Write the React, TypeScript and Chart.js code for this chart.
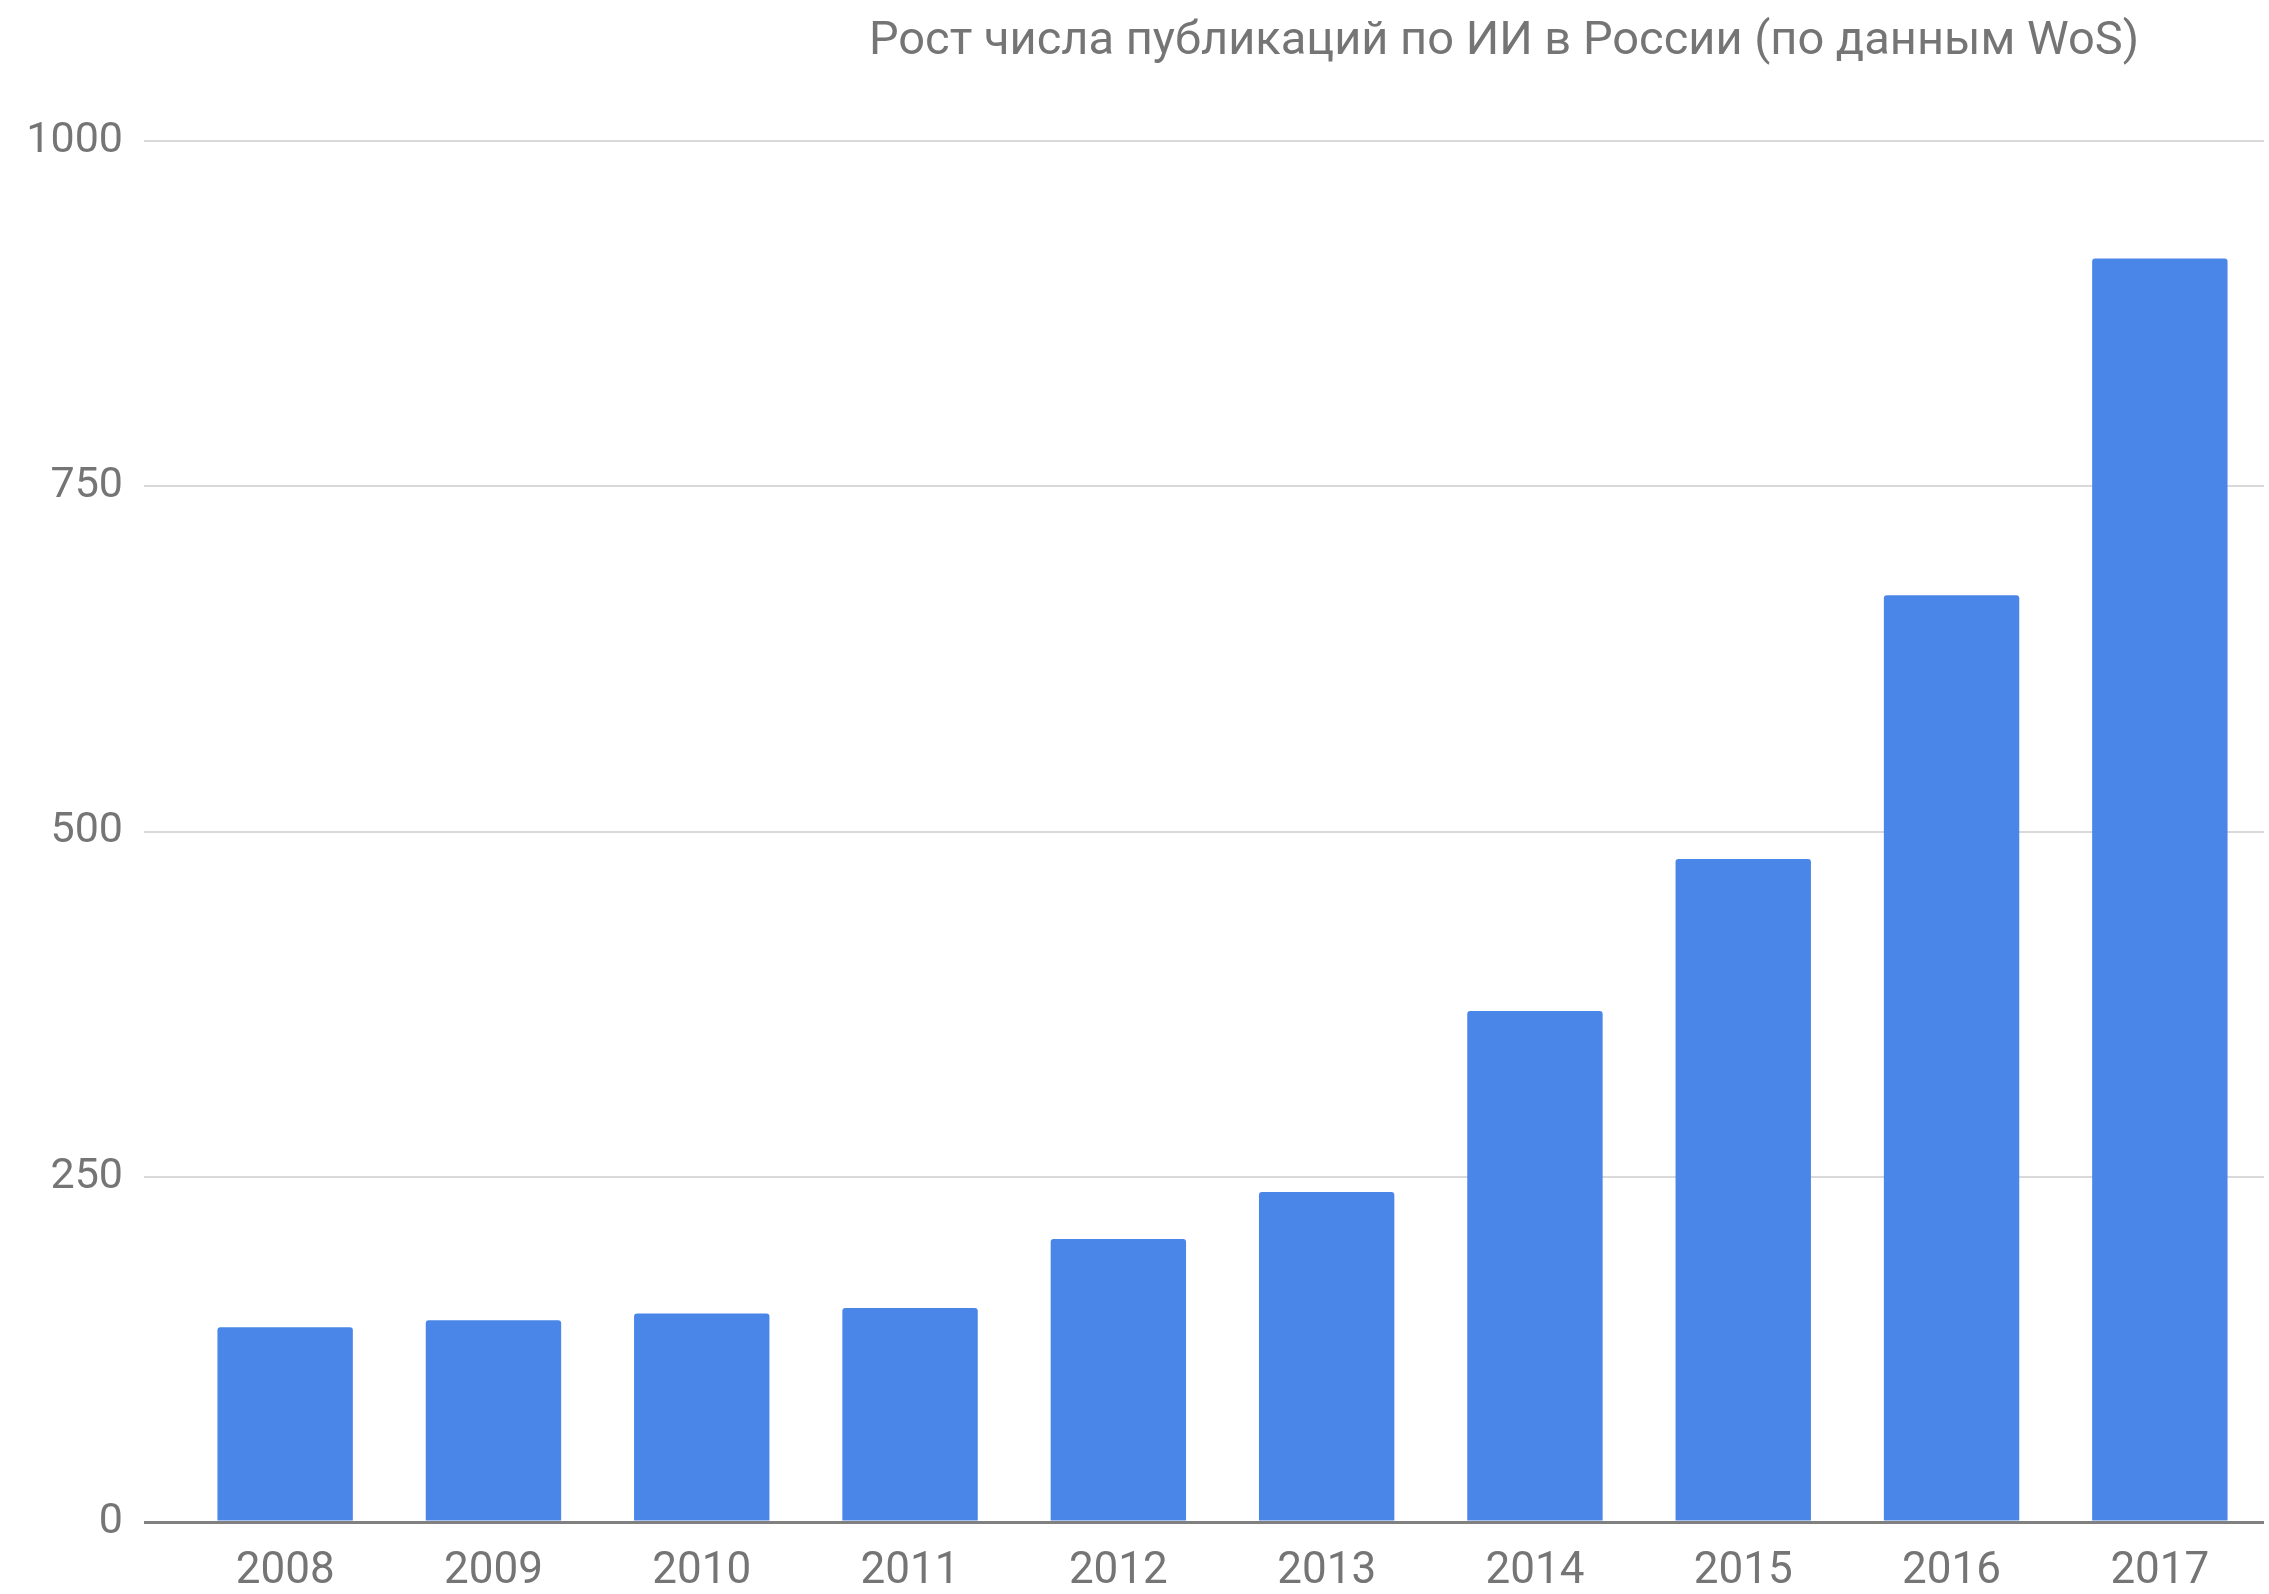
import React, { useEffect, useRef } from "react";
import { Chart, registerables } from "chart.js";

Chart.register(...registerables);

const TITLE = "Рост числа публикаций по ИИ в России (по данным WoS)";
const YEARS = ["2008", "2009", "2010", "2011", "2012", "2013", "2014", "2015", "2016", "2017"];
const PUBLICATIONS = [141, 146, 151, 155, 205, 239, 370, 480, 671, 915];
const Y_TICKS = [0, 250, 500, 750, 1000];

const W = 2269;
const H = 1594;

const titlePlugin = {
  id: "offsetTitle",
  afterDraw(chart: any) {
    const ctx = chart.ctx;
    ctx.save();
    ctx.font = "47px Roboto";
    ctx.fillStyle = "#757575";
    ctx.textAlign = "center";
    ctx.textBaseline = "alphabetic";
    ctx.fillText(TITLE, 1504, 54);
    ctx.restore();
  },
};

export default function App() {
  const ref = useRef<HTMLCanvasElement | null>(null);

  useEffect(() => {
    document.body.style.margin = "0";
    const canvas = ref.current;
    if (!canvas) return;
    Chart.defaults.font.family = "Roboto";
    const chart = new Chart(canvas, {
      type: "bar",
      data: {
        labels: YEARS,
        datasets: [
          {
            data: PUBLICATIONS,
            backgroundColor: "#4a86e8",
            borderRadius: { topLeft: 3, topRight: 3, bottomLeft: 0, bottomRight: 0 },
            borderSkipped: false,
            categoryPercentage: 1,
            barPercentage: 0.65,
          },
        ],
      },
      options: {
        responsive: false,
        animation: false,
        devicePixelRatio: 1,
        layout: { padding: { top: 141, right: 5, bottom: 1, left: 0 } },
        plugins: {
          legend: { display: false },
          title: { display: false },
          tooltip: { enabled: false },
        },
        scales: {
          x: {
            grid: { display: false, drawTicks: false },
            border: { display: false },
            afterFit(scale: any) {
              scale.height = 71;
            },
            ticks: {
              color: "#757575",
              font: { size: 44, family: "Roboto" },
              padding: 24,
              maxRotation: 0,
            },
          },
          y: {
            min: 0,
            max: 1000,
            afterBuildTicks(scale: any) {
              scale.ticks = Y_TICKS.map((v) => ({ value: v }));
            },
            afterFit(scale: any) {
              scale.width = 181;
            },
            border: { display: false },
            grid: {
              color: (c: any) => (c.tick && c.tick.value === 0 ? "#808080" : "#d9d9d9"),
              tickColor: (c: any) => (c.tick && c.tick.value === 0 ? "#808080" : "#d9d9d9"),
              lineWidth: (c: any) => (c.tick && c.tick.value === 0 ? 3 : 2),
              tickLength: 37,
              drawTicks: true,
            },
            ticks: {
              color: "#757575",
              font: { size: 43, family: "Roboto" },
              padding: 21,
              callback: (v: any) => String(v),
            },
          },
        },
      },
      plugins: [titlePlugin],
    });
    return () => chart.destroy();
  }, []);

  return (
    <div style={{ width: W, height: H, background: "#ffffff" }}>
      <canvas ref={ref} width={W} height={H} style={{ display: "block" }} />
    </div>
  );
}
